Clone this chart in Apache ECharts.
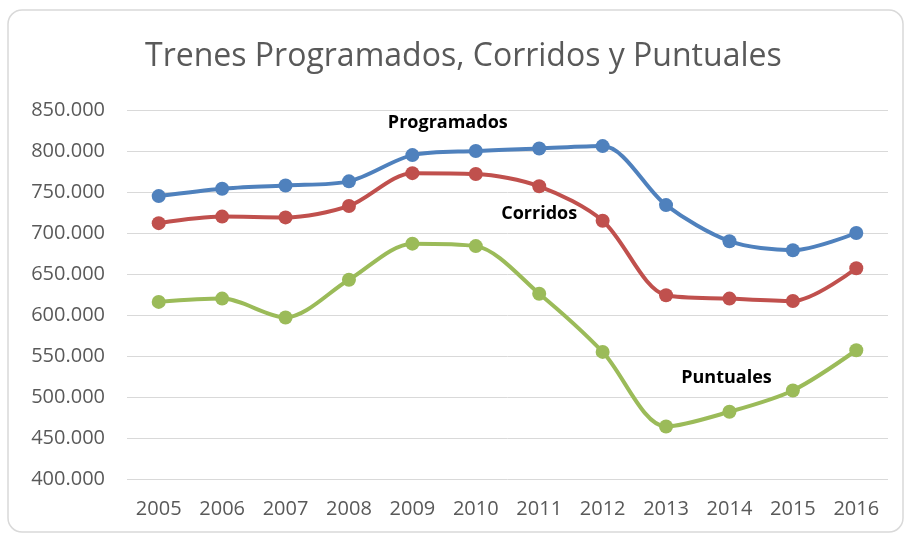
<!DOCTYPE html>
<html>
<head>
<meta charset="utf-8">
<script src="https://cdn.jsdelivr.net/npm/echarts@6/dist/echarts.min.js"></script>
<style>
  html, body { margin: 0; padding: 0; background: #fff; }
  #main { width: 908px; height: 536px; }
</style>
</head>
<body>
<div id="main"></div>
<script>
  // datos
  const years = ['2005', '2006', '2007', '2008', '2009', '2010', '2011', '2012', '2013', '2014', '2015', '2016'];
  const programados = [745000, 754000, 758000, 763000, 795000, 800000, 803000, 806000, 734000, 690000, 679000, 700000];
  const corridos = [712000, 720000, 719000, 733000, 773000, 772000, 757000, 715000, 624000, 620000, 617000, 657000];
  const puntuales = [616000, 620000, 597000, 643000, 687000, 684000, 626000, 555000, 464000, 482000, 508000, 557000];
  const yTicks = [400000, 450000, 500000, 550000, 600000, 650000, 700000, 750000, 800000, 850000];

  const fmt = v => (v / 1000).toFixed(3);
  const font = '"Open Sans", "Liberation Sans", sans-serif';

  // etiqueta con el nombre de la serie en un solo punto
  function withLabel(values, idx, name, position, offset) {
    return values.map((v, i) => i === idx ? {
      value: v,
      label: {
        show: true, formatter: name, position: position, offset: offset,
        color: '#000', fontWeight: 'bold', fontSize: 18, fontFamily: font
      }
    } : v);
  }

  function serie(name, color, data) {
    return {
      name: name,
      type: 'line',
      smooth: 0.3,
      data: data,
      symbol: 'circle',
      symbolSize: 14,
      lineStyle: { color: color, width: 4 },
      itemStyle: { color: color },
      emphasis: { disabled: true }
    };
  }

  const myChart = echarts.init(document.getElementById('main'));
  myChart.setOption({
    animation: false,
    title: {
      text: 'Trenes Programados, Corridos y Puntuales',
      left: 140,
      top: 36,
      textStyle: { color: '#595959', fontSize: 32, fontWeight: 'normal', fontFamily: font }
    },
    graphic: [{
      type: 'rect',
      silent: true,
      shape: { x: 8, y: 10, width: 895, height: 522, r: 14 },
      style: { fill: 'none', stroke: '#d9d9d9', lineWidth: 1.5 }
    }],
    grid: { left: 127, right: 20, top: 110, bottom: 57 },
    xAxis: {
      type: 'category',
      data: years,
      axisTick: { show: false },
      axisLine: { show: false },
      axisLabel: { color: '#595959', fontSize: 20, fontFamily: font, margin: 20 }
    },
    yAxis: {
      type: 'value',
      min: yTicks[0],
      max: yTicks[yTicks.length - 1],
      interval: 50000,
      axisLine: { show: false },
      axisTick: { show: false },
      splitLine: { lineStyle: { color: '#d9d9d9', width: 1 } },
      axisLabel: { color: '#595959', fontSize: 20, fontFamily: font, margin: 22, formatter: fmt }
    },
    series: [
      serie('Programados', '#4F81BD', withLabel(programados, 5, 'Programados', 'top', [-28, -7])),
      serie('Corridos', '#C0504D', withLabel(corridos, 6, 'Corridos', 'bottom', [0, 7])),
      serie('Puntuales', '#9BBB59', withLabel(puntuales, 9, 'Puntuales', 'top', [-3, -13]))
    ]
  });
</script>
</body>
</html>
